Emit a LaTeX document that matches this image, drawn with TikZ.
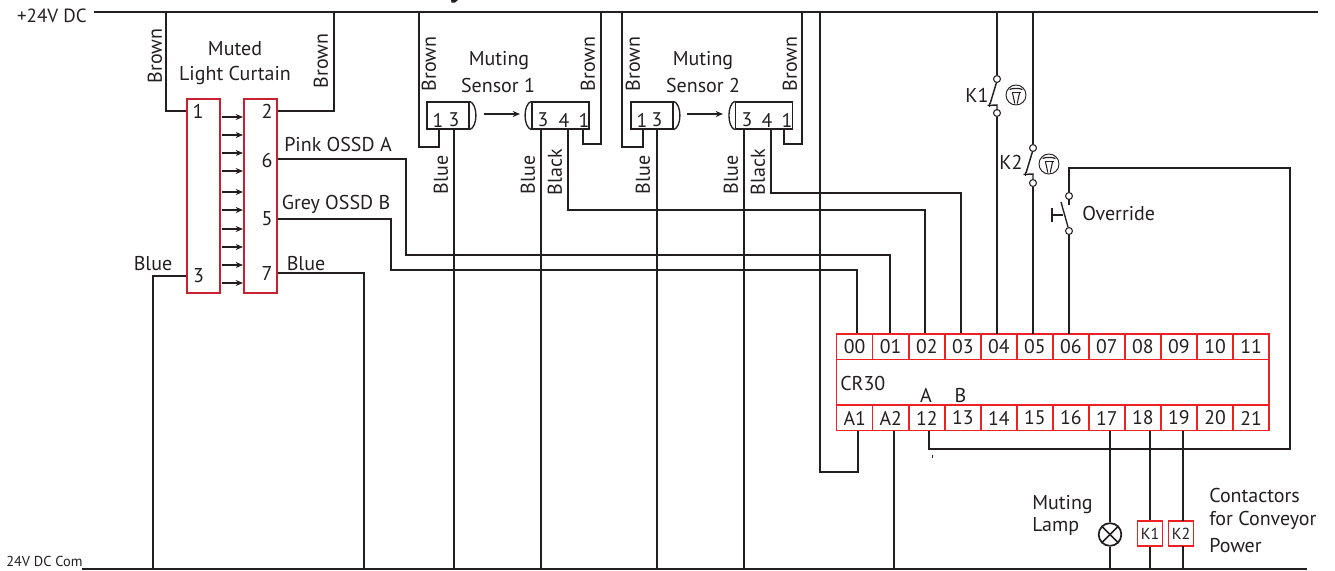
\documentclass[tikz,border=0pt]{standalone}
\usepackage{fontspec}
\setmainfont{PT Sans}
\definecolor{wire}{HTML}{231F20}
\definecolor{curt}{HTML}{C8202F}
\definecolor{relay}{HTML}{ED2024}
\usetikzlibrary{arrows.meta}
\tikzset{
  wiring/.style={draw=wire,line width=1.2pt,line join=miter},
  lab/.style={inner sep=0pt,font=\fontsize{15}{16}\selectfont,text=wire},
  small/.style={inner sep=0pt,font=\fontsize{14.8}{16}\selectfont,text=wire},
  vlab/.style={lab,rotate=90},
  bar/.style={draw=curt,line width=1.2pt,fill=white,inner sep=0pt,minimum width=24.6pt,minimum height=145.5pt},
  sens/.style={draw=wire,line width=1pt,fill=white,inner sep=0pt,minimum height=20.2pt},
  cellbox/.style={draw=relay,line width=1.1pt,inner sep=0pt,minimum width=27pt,minimum height=19pt,font=\fontsize{14.8}{16}\selectfont,text=wire},
  term/.style={circle,draw=wire,line width=.8pt,fill=white,inner sep=0pt,minimum size=5.2pt},
  thin/.style={draw=wire,line width=.8pt,-{Stealth[length=5.5pt,width=4.5pt]}},
  kbox/.style={draw=relay,line width=1.1pt,inner sep=0pt,minimum width=18.5pt,minimum height=19pt,font=\fontsize{12}{13}\selectfont,text=wire},
  mush/.pic={
    \draw[wire,line width=.7pt] (0,0) circle (10);
    \draw[wire,line width=.9pt] (-6.5,-5.5) .. controls (-3,-7) and (3,-7) .. (6.5,-5.5);
    \draw[wire,line width=1.2pt] (-4.5,-2.5) -- (4.5,-2.5);
    \draw[wire,line width=.8pt] (-3.5,-2) -- (-1.2,8.5);
    \draw[wire,line width=.8pt] (3.5,-2) -- (1.2,8.5);
  },
  kblade/.pic={
    \draw[wire,line width=1.1pt] (-.5,3.5) -- (-7,25);
    \draw[wire,line width=1.1pt] (-9.5,26.5) -- (0,26) -- (0,31);
    \draw[wire,line width=.9pt] (-7.5,23.5) -- (-7.5,28);
  }
}
\begin{document}
\begin{tikzpicture}[x=.75pt,y=-.75pt]
\useasboundingbox (0,0) rectangle (1335,571);
% clipped title fragment
\fill[wire] (451,0) -- (458,0) -- (455,2.5) -- (451.5,2.5) -- cycle;
% rails
\coordinate (pL) at (94,12); \coordinate (pR) at (1318,12);
\coordinate (nL) at (82,569); \coordinate (nR) at (1307,569);
\draw[wiring] (pL) -- (pR);
\draw[wiring] (nL) -- (nR);
\node[lab,anchor=east,font=\fontsize{14.3}{16}\selectfont] (plus) at (87,16) {+24V DC};
\node[lab,anchor=west,font=\fontsize{10.8}{12}\selectfont] (com) at (6,561) {24V DC Com};
% light curtain
\node[bar] (emit) at (203.5,196) {};
\node[bar] (recv) at (260.5,196) {};
\foreach \n/\t/\x/\y in {t1/1/198/111,t3/3/198.5/276,t2/2/267/111,t6/6/267/160,t5/5/267/219,t7/7/267/273}
  \node[lab] (\n) at (\x,\y) {\t};
\foreach \y [count=\i] in {117,135,153,171,192,210,229,247,265,283}{
  \coordinate (ea\i) at (222,\y); \coordinate (eb\i) at (243,\y);
  \draw[thin] (ea\i) -- (eb\i);
}
\draw[wiring] (166,12) -- (166,111) -- (emit.west |- 0,111);
\draw[wiring] (334,12) -- (334,111) -- (recv.east |- 0,111);
\draw[wiring] (recv.east |- 0,159) -- (406,159) -- (406,255) -- (890,255) -- (890,334);
\draw[wiring] (recv.east |- 0,219) -- (391,219) -- (391,270) -- (857,270) -- (857,334);
\draw[wiring] (emit.west |- 0,276) -- (153,276) -- (153,569);
\draw[wiring] (recv.east |- 0,273) -- (364,273) -- (364,569);
\node[vlab] (b1) at (155,56) {Brown};
\node[vlab] (b2) at (321,61) {Brown};
\node[lab] (mt) at (235,49) {Muted};
\node[lab] (lc) at (235,75) {Light Curtain};
\node[lab] (pk) at (338,144) {Pink OSSD A};
\node[lab] (gr) at (336,204) {Grey OSSD B};
\node[lab] (bl1) at (153,264) {Blue};
\node[lab] (bl2) at (306,264) {Blue};
% sensors
\node[sens,minimum width=31.5pt] (s1t) at (448,115.5) {};
\node[sens,minimum width=42.8pt] (s1r) at (560.5,115.5) {};
\node[sens,minimum width=31.5pt] (s2t) at (652,115.5) {};
\node[sens,minimum width=42.8pt] (s2r) at (764,115.5) {};
\foreach \n/\x/\t in {a1/438/1,a2/454/3,a3/543/3,a4/564/4,a5/584/1,c1/642/1,c2/657/3,c3/747/3,c4/767/4,c5/787/1}
  \node[small] (\n) at (\x,120) {\t};
\draw[wire,line width=1pt] (s1t.north east) .. controls (478,104) and (478,127) .. (s1t.south east);
\draw[wire,line width=1pt] (s2t.north east) .. controls (682,104) and (682,127) .. (s2t.south east);
\draw[wire,line width=1pt] (s1r.north west) .. controls (523,104) and (523,127) .. (s1r.south west);
\draw[wire,line width=1pt] (s2r.north west) .. controls (727,104) and (727,127) .. (s2r.south west);
\draw[thin] (484,114) -- (520,114);
\draw[thin] (687,114) -- (723,114);
\draw[wiring] (419,12) -- (419,147) -- (439,147) -- (439,129);
\draw[wiring] (454,129) -- (454,569);
\draw[wiring] (601,12) -- (601,144) -- (583,144) -- (583,129);
\draw[wiring] (541,129) -- (541,569);
\draw[wiring] (568,129) -- (568,210) -- (925,210) -- (925,334);
\draw[wiring] (622,12) -- (622,147) -- (643,147) -- (643,129);
\draw[wiring] (657,129) -- (657,569);
\draw[wiring] (802,12) -- (802,144) -- (784,144) -- (784,129);
\draw[wiring] (744,129) -- (744,569);
\draw[wiring] (771,129) -- (771,193) -- (961,193) -- (961,334);
\foreach \x/\n in {429/q1,588/q2,633/q3,790/q4}
  \node[vlab] (\n) at (\x,64) {Brown};
\foreach \x/\n in {441/r1,528/r2,643/r3,731/r4}
  \node[vlab] (\n) at (\x,175) {Blue};
\foreach \x/\n in {555/v1,758/v2}
  \node[vlab] (\n) at (\x,172) {Black};
\node[lab] (m1) at (499,61) {Muting};
\node[lab] (s1l) at (498,85) {Sensor 1};
\node[lab] (m2) at (703,61) {Muting};
\node[lab] (s2l) at (703,85) {Sensor 2};
% relay
\node[draw=relay,line width=1.1pt,inner sep=0pt,minimum width=324.3pt,minimum height=34.1pt] (cr) at (1052.8,382.2) {};
\foreach \t [count=\i from 0] in {00,01,02,03,04,05,06,07,08,09,10,11}
  \node[cellbox] (top\i) at ({854.7+36.03*\i},346.7) {\t};
\foreach \t [count=\i from 0] in {A1,A2,12,13,14,15,16,17,18,19,20,21}
  \node[cellbox] (bot\i) at ({854.7+36.03*\i},418) {\t};
\node[lab,anchor=west] (crl) at (840,383) {CR30};
\node[lab] (la) at (926,395) {A};
\node[lab] (lb) at (960.5,395) {B};
% safety contacts
\node[term] (k1a) at (997,79) {};
\node[term] (k1b) at (997,113) {};
\node[term] (k2a) at (1033,148) {};
\node[term] (k2b) at (1033,183) {};
\node[term] (ova) at (1069,196) {};
\node[term] (ovb) at (1069,231) {};
\draw[wiring] (997,12) -- (k1a);
\draw[wiring] (k1b) -- (997,334);
\draw[wiring] (1033,12) -- (k2a);
\draw[wiring] (k2b) -- (1033,334);
\draw[wiring] (ovb) -- (1069,334);
\draw[wiring] (ova) -- (1069,168) -- (1290,168) -- (1290,449) -- (929,449) -- (929,431);
\pic at (997,79) {kblade};
\pic at (1033,148) {kblade};
\pic at (1016,95) {mush};
\pic at (1049,164) {mush};
\draw[wire,line width=1pt] (1069,199) -- (1069,205);
\draw[wire,line width=1pt] (1061,202) -- (1068,227);
\draw[wire,line width=1pt] (1052,208) -- (1052,222);
\draw[wire,line width=1pt] (1052,215) -- (1063,215);
\node[lab] (kl1) at (977,95) {K1};
\node[lab] (kl2) at (1011,162) {K2};
\node[lab,anchor=west] (ovl) at (1082,213) {Override};
% outputs
\draw[wiring] (858,431) -- (858,472) -- (820,472) -- (820,12);
\draw[wiring] (894,431) -- (894,569);
\draw[wire,line width=.5pt] (932,455) -- (932,457.5);
\node[circle,draw=wire,line width=1.3pt,fill=white,inner sep=0pt,minimum size=17pt] (lamp) at (1110,534.5) {};
\draw[wire,line width=1.3pt] (lamp.north west) -- (lamp.south east);
\draw[wire,line width=1.3pt] (lamp.north east) -- (lamp.south west);
\draw[wiring] (1110,431) -- (lamp);
\draw[wiring] (lamp) -- (1110,569);
\node[kbox] (ka) at (1150,533.5) {K1};
\node[kbox] (kb) at (1181,533.5) {K2};
\draw[wiring] (1150,431) -- (ka);
\draw[wiring] (ka) -- (1150,569);
\draw[wiring] (1183,431) -- (1183,521);
\draw[wiring] (1183,546) -- (1183,569);
\node[lab,anchor=west] (ml) at (1032,505) {Muting};
\node[lab,anchor=west] (lp) at (1032,526) {Lamp};
\node[lab,anchor=west] (c1l) at (1209,495) {Contactors};
\node[lab,anchor=west] (c2l) at (1209,520) {for Conveyor};
\node[lab,anchor=west] (c3l) at (1209,546) {Power};
\end{tikzpicture}
\end{document}
